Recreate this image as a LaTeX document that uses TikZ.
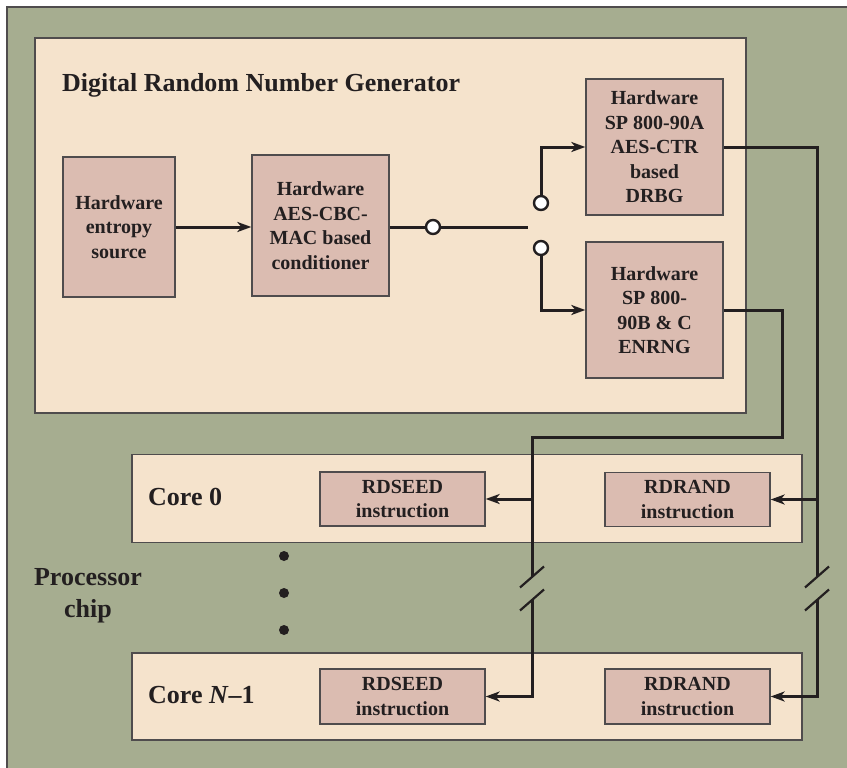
\documentclass[tikz,border=0pt]{standalone}
\usepackage{fontspec}
\setmainfont{Liberation Serif}
\usetikzlibrary{calc,arrows.meta}

\definecolor{chipgreen}{RGB}{166,173,144}
\definecolor{drngcream}{RGB}{245,227,204}
\definecolor{hwpink}{RGB}{219,188,177}
\definecolor{ink}{RGB}{35,31,32}

\tikzset{
  hwbox/.style={draw=ink!80, line width=1.3pt, fill=hwpink, align=center, inner sep=2pt,
    font=\fontsize{20}{24.5}\selectfont\bfseries, text=ink},
  corebox/.style={draw=ink!80, line width=1.3pt, fill=drngcream},
  wire/.style={draw=ink, line width=3pt},
  tip/.style={-{Stealth[length=14pt,width=10pt,inset=4pt]}},
  swdot/.style={circle, draw=ink, line width=2.4pt, fill=white, inner sep=0pt, minimum size=14pt},
  brk/.style={draw=ink, line width=2.2pt},
  biglabel/.style={font=\fontsize{26}{32}\selectfont\bfseries, text=ink, inner sep=0pt}
}

\begin{document}
\begin{tikzpicture}[x=1pt,y=-1pt]
    \useasboundingbox(0,0)rectangle(847,768);
    % chip
    \path[draw=ink!80, line width=1.5pt, fill=chipgreen](7,7)rectangle(860,780);
    \node[biglabel, align=center](chip)at(88,596){Processor\\chip};

    % DRNG
    \path[draw=ink!80, line width=1.3pt, fill=drngcream](35,38)rectangle(746,413);
    \node[biglabel, anchor=west](drnglbl)at(62,85){Digital Random Number Generator};
    \node[hwbox, minimum width=112pt, minimum height=140pt](src)at(119,227){Hardware\\entropy\\source};
    \node[hwbox, minimum width=137pt, minimum height=141pt](cond)at(320.5,225.5){Hardware\\AES-CBC-\\MAC based\\conditioner};
    \node[hwbox, minimum width=137pt, minimum height=136pt](drbg)at(654.5,147){Hardware\\SP 800-90A\\AES-CTR\\based\\DRBG};
    \node[hwbox, minimum width=137pt, minimum height=136pt](enrng)at(654.5,310){Hardware\\SP 800-\\90B \& C\\ENRNG};

    % switch
    \coordinate(swin)at(528,227);
    \path[wire, tip](src.east)to(src.east -| cond.west);
    \path[wire](cond.east |- swin)to(swin);
    \node[swdot](c0)at(433,227){};
    \node[swdot](sw1)at(541,203){};
    \node[swdot](sw2)at(541,248){};
    \path[wire, tip](sw1.north)|-(drbg.west);
    \path[wire, tip](sw2.south)|-(enrng.west);

    % cores
    \node[corebox, minimum width=670pt, minimum height=88pt](core0)at(467,498.5){};
    \node[biglabel, anchor=west](core0lbl)at(148,497){Core 0};
    \node[hwbox, minimum width=165pt, minimum height=54pt](seed0)at(402.5,499){RDSEED\\instruction};
    \node[hwbox, minimum width=165pt, minimum height=54pt](rand0)at(687.5,499.5){RDRAND\\instruction};

    \node[corebox, minimum width=670pt, minimum height=87pt](coreN)at(467,696.5){};
    \node[biglabel, anchor=west](coreNlbl)at(148,695){Core \textit{N}–1};
    \node[hwbox, minimum width=165pt, minimum height=55pt](seedN)at(402.5,696.5){RDSEED\\instruction};
    \node[hwbox, minimum width=165pt, minimum height=55pt](randN)at(687.5,696.5){RDRAND\\instruction};

    \foreach \y in {556,593,630}
        \path[fill=ink](284,\y)circle(5);

    % buses with breaks
    \coordinate(A1)at(817,577);
    \coordinate(A2)at(817,600);
    \coordinate(B0)at(782,437);
    \coordinate(B1)at(532,577);
    \coordinate(B2)at(532,600);

    \path[wire](drbg.east)-|(A1);
    \path[wire, tip](A2)|-(randN.east);
    \path[wire, tip](rand0.east -| A1)to(rand0.east);

    \path[wire](enrng.east)-|(B0)-|(B1);
    \path[wire, tip](B2)|-(seedN.east);
    \path[wire, tip](seed0.east -| B1)to(seed0.east);

    \foreach \p in {A1,A2,B1,B2}
        \path[brk]($(\p)+(-12,10.5)$)to($(\p)+(12,-10.5)$);
\end{tikzpicture}
\end{document}
